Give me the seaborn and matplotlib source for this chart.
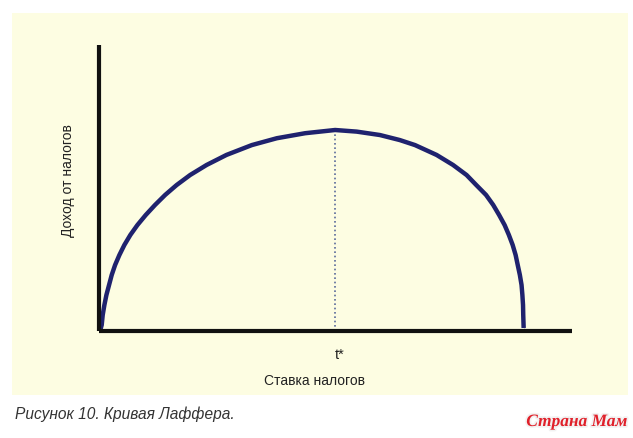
import matplotlib
matplotlib.use("Agg")
import matplotlib.pyplot as plt
from matplotlib.patches import Rectangle
import matplotlib.patheffects as pe
import seaborn as sns
import pandas as pd

# Laffer curve (tax rate, tax revenue), arbitrary units
tax_rate = [0.0, 0.39, 0.63, 1.02, 1.50, 2.13, 2.76, 3.55, 4.57, 5.75, 7.17,
            8.83, 10.8, 13.0, 15.4, 18.1, 21.3, 25.2, 29.9, 35.9, 41.8, 48.5,
            55.6, 60.7, 66.2, 70.9, 74.5, 79.6, 83.5, 86.7, 89.0, 91.3, 93.0,
            94.4, 95.7, 96.7, 97.6, 98.3, 98.8, 99.3, 99.7, 99.9, 100.05,
            100.1, 100.2, 100.2]
revenue = [0.0, 3.0, 8.0, 12.9, 17.9, 22.9, 27.9, 32.8, 37.8, 42.8, 47.8,
           52.7, 57.7, 62.7, 67.7, 72.6, 77.6, 82.6, 87.6, 92.5, 95.9, 98.4,
           100.0, 99.2, 97.5, 95.0, 92.5, 87.6, 82.6, 77.6, 72.6, 67.7, 62.7,
           57.7, 52.7, 47.8, 42.8, 37.8, 32.8, 27.9, 22.9, 17.9, 12.9,
           8.0, 3.0, 0.0]
peak_rate = 55.6
peak_revenue = 100.0

x_label = "Ставка налогов"
y_label = "Доход от налогов"
peak_label = "t*"
caption = "Рисунок 10. Кривая Лаффера."
watermark = "Страна Мам"

df = pd.DataFrame({"rate": tax_rate, "revenue": revenue})

sns.set_theme(style="white")
sans = ["Liberation Sans", "DejaVu Sans"]
plt.rcParams["font.family"] = sans

fig = plt.figure(figsize=(6.33, 4.38), dpi=100)
fig.patch.set_facecolor("white")
fig.patches.append(Rectangle((0.019, 0.098), 0.973, 0.872, transform=fig.transFigure,
                             facecolor="#fdfde2", edgecolor="none", zorder=-10))

ax = fig.add_axes([0.1564, 0.2443, 0.747, 0.653])
ax.set_facecolor("none")

ax.vlines(peak_rate, 0, peak_revenue, colors="#5a6a9a", linestyles=(0, (1, 1.6)),
          linewidth=1.2, zorder=2)
sns.lineplot(data=df, x="rate", y="revenue", sort=False, ax=ax,
             color="#1f226e", linewidth=3.2, zorder=3, clip_on=False,
             solid_joinstyle="round", solid_capstyle="butt")

ax.set_xlim(-0.25, 111.6)
ax.set_ylim(0, 142.3)
ax.set_xticks([])
ax.set_yticks([])
ax.set_xlabel("")
ax.set_ylabel("")
for side in ["top", "right"]:
    ax.spines[side].set_visible(False)
for side in ["left", "bottom"]:
    ax.spines[side].set_color("#111111")
    ax.spines[side].set_linewidth(3.0)
    ax.spines[side].set_capstyle("butt")
    ax.spines[side].set_zorder(4)

fig.text(340 / 633, 1 - 355 / 438, peak_label, ha="center", va="center",
         fontsize=10.5, color="#222222")
fig.text(315 / 633, 1 - 381 / 438, x_label, ha="center", va="center",
         fontsize=10, color="#222222")
fig.text(68 / 633, 1 - 181 / 438, y_label, ha="center", va="center",
         rotation=90, fontsize=10, color="#222222")
fig.text(15 / 633, 1 - 414 / 438, caption, ha="left", va="center",
         fontsize=11.2, style="italic", color="#333333")
fig.text(577 / 633, 1 - 422 / 438, watermark, ha="center", va="center",
         fontsize=12.5, style="italic", weight="bold", color="#e0202a",
         family=["Liberation Serif", "DejaVu Serif"],
         path_effects=[pe.withStroke(linewidth=2.5, foreground="#f2f2f2")])

fig.savefig("out.png", dpi=100, facecolor="white")
